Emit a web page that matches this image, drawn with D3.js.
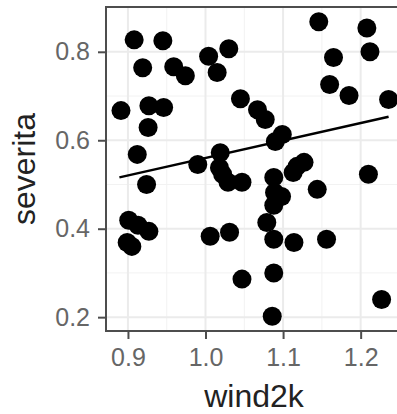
<!DOCTYPE html>
<html>
<head>
<meta charset="utf-8">
<script src="https://cdn.jsdelivr.net/npm/d3@7"></script>
<style>
  body { margin: 0; background: #fff; }
  svg { display: block; font-family: "Liberation Sans", Arial, sans-serif; }
</style>
</head>
<body>
<svg id="chart" width="397" height="414"></svg>
<script>
// wind2k vs severita
var wind2k = [0.908, 0.945, 0.919, 0.959, 0.974, 0.891, 0.927, 0.946, 0.926, 0.912,
              0.924, 0.990, 0.901, 0.913, 0.927, 0.899, 0.905,
              1.004, 1.030, 1.015, 1.045, 1.067, 1.077, 1.099, 1.090,
              1.019, 1.018, 1.022, 1.029, 1.047, 1.088, 1.089, 1.098, 1.088,
              1.006, 1.031, 1.079, 1.088, 1.114, 1.156, 1.047, 1.088, 1.086,
              1.146, 1.208, 1.212, 1.165, 1.160, 1.185, 1.236,
              1.127, 1.118, 1.113, 1.144, 1.210, 1.227];
var severita = [0.827, 0.825, 0.764, 0.766, 0.746, 0.667, 0.678, 0.674, 0.629, 0.568,
                0.500, 0.545, 0.419, 0.408, 0.394, 0.369, 0.360,
                0.790, 0.807, 0.753, 0.694, 0.669, 0.647, 0.613, 0.597,
                0.572, 0.538, 0.523, 0.505, 0.505, 0.516, 0.482, 0.473, 0.453,
                0.383, 0.392, 0.414, 0.376, 0.369, 0.376, 0.286, 0.300, 0.202,
                0.868, 0.854, 0.800, 0.787, 0.726, 0.701, 0.692,
                0.550, 0.541, 0.527, 0.489, 0.523, 0.240];

// fitted line end points (lm smooth)
var fitX = [0.889, 1.236];
var fitY = [0.516, 0.653];

var xTicks = [0.9, 1.0, 1.1, 1.2];
var yTicks = [0.2, 0.4, 0.6, 0.8];
var xMinor = [0.95, 1.05, 1.15];
var yMinor = [0.3, 0.5, 0.7];

var g = {
    left: 106, top: 7, right: 402, bottom: 331
};

var svg = d3.select("#chart");

var x = d3.scaleLinear().domain([0.8717, 1.2533]).range([g.left, g.right]);
var y = d3.scaleLinear().domain([0.1687, 0.9013]).range([g.bottom, g.top]);

// panel background
svg.append("rect")
    .attr("x", g.left).attr("y", g.top)
    .attr("width", g.right - g.left).attr("height", g.bottom - g.top)
    .attr("fill", "#fff");

// grid: minor then major
var grid = svg.append("g").attr("class", "grid");
grid.selectAll(".xminor").data(xMinor).enter().append("line")
    .attr("x1", x).attr("x2", x).attr("y1", g.top).attr("y2", g.bottom)
    .attr("stroke", "#f2f2f2").attr("stroke-width", 1);
grid.selectAll(".yminor").data(yMinor).enter().append("line")
    .attr("y1", y).attr("y2", y).attr("x1", g.left).attr("x2", g.right)
    .attr("stroke", "#f2f2f2").attr("stroke-width", 1);
grid.selectAll(".xmajor").data(xTicks).enter().append("line")
    .attr("x1", x).attr("x2", x).attr("y1", g.top).attr("y2", g.bottom)
    .attr("stroke", "#ebebeb").attr("stroke-width", 2);
grid.selectAll(".ymajor").data(yTicks).enter().append("line")
    .attr("y1", y).attr("y2", y).attr("x1", g.left).attr("x2", g.right)
    .attr("stroke", "#ebebeb").attr("stroke-width", 2);

// points
var pts = d3.range(wind2k.length).map(function(i) { return [wind2k[i], severita[i]]; });
svg.append("g").selectAll("circle")
    .data(pts)
  .enter().append("circle")
    .attr("cx", function(d) { return x(d[0]); })
    .attr("cy", function(d) { return y(d[1]); })
    .attr("r", 9.5)
    .attr("fill", "#000");

// fitted line
var line = d3.line()
    .x(function(d) { return x(d[0]); })
    .y(function(d) { return y(d[1]); });
svg.append("path")
    .datum(fitX.map(function(v, i) { return [v, fitY[i]]; }))
    .attr("d", line)
    .attr("fill", "none")
    .attr("stroke", "#000")
    .attr("stroke-width", 2.5);

// panel border
svg.append("rect")
    .attr("x", g.left).attr("y", g.top)
    .attr("width", g.right - g.left).attr("height", g.bottom - g.top)
    .attr("fill", "none").attr("stroke", "#4d4d4d").attr("stroke-width", 2);

function customAxis(sel) {
    sel.select(".domain").remove();
    sel.selectAll(".tick line").attr("stroke", "#4d4d4d").attr("stroke-width", 2);
    sel.selectAll("text").attr("fill", "#666").style("font-size", "25px");
}

svg.append("g")
    .attr("transform", "translate(0," + g.bottom + ")")
    .call(d3.axisBottom(x).tickValues(xTicks).tickFormat(d3.format(".1f")).tickSize(8).tickPadding(9))
    .call(customAxis);

svg.append("g")
    .attr("transform", "translate(" + g.left + ",0)")
    .call(d3.axisLeft(y).tickValues(yTicks).tickFormat(d3.format(".1f")).tickSize(8).tickPadding(8))
    .call(customAxis);

// axis titles
svg.append("text")
    .attr("x", (g.left + g.right) / 2).attr("y", 407)
    .attr("text-anchor", "middle")
    .style("font-size", "32px")
    .attr("fill", "#222")
    .text("wind2k");

svg.append("text")
    .attr("transform", "translate(35," + ((g.top + g.bottom) / 2) + ") rotate(-90)")
    .attr("text-anchor", "middle")
    .style("font-size", "32px")
    .attr("fill", "#222")
    .text("severita");
</script>
</body>
</html>
